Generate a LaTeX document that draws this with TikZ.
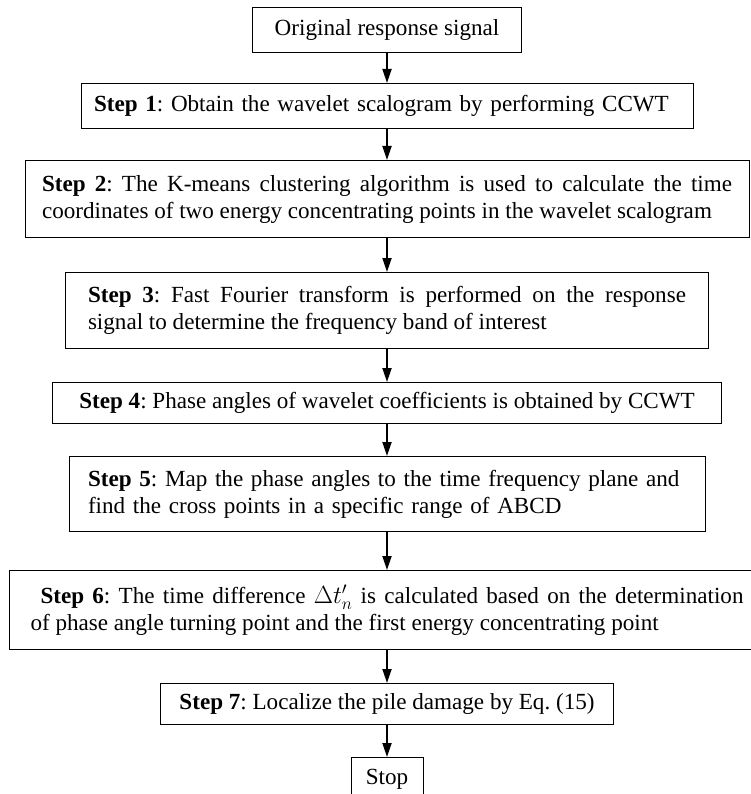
\documentclass[tikz,border=0pt]{standalone}
\usepackage{fontspec}
\setmainfont{Liberation Serif}
\usetikzlibrary{arrows.meta}
\begin{document}
\begin{tikzpicture}[x=1pt,y=1pt,
    box/.style={draw,line width=1pt,anchor=north,inner sep=0pt,
      font=\fontsize{23.1}{27}\selectfont\frenchspacing},
    flow/.style={-{Triangle[length=14pt,width=9pt]},line width=1.8pt}]
    \useasboundingbox (0,0) rectangle (750,-794);

    \node[box,minimum width=269pt,minimum height=45pt] (orig) at (387,-7)
      {Original response signal};
    \node[box,minimum width=612pt,minimum height=45pt,text width=586pt,align=left] (s1) at (387,-83)
      {\textbf{Step 1}: Obtain the wavelet scalogram by performing CCWT};
    \node[box,minimum width=724pt,minimum height=77pt,text width=690pt,align=justify] (s2) at (387,-160)
      {\textbf{Step 2}: The K-means clustering algorithm is used to calculate the time\linebreak
       coordinates of two energy concentrating points in the wavelet scalogram};
    \node[box,minimum width=643pt,minimum height=76pt,text width=598pt,align=justify] (s3) at (387,-272)
      {\textbf{Step 3}: Fast Fourier transform is performed on the response\linebreak
       signal to determine the frequency band of interest};
    \node[box,minimum width=669pt,minimum height=41pt] (s4) at (387,-382)
      {\textbf{Step 4}: Phase angles of wavelet coefficients is obtained by CCWT};
    \node[box,minimum width=636pt,minimum height=75pt,text width=598pt,align=left] (s5) at (387,-456)
      {\textbf{Step 5}: Map the phase angles to the time frequency plane and\\
       find the cross points in a specific range of ABCD};
    \node[box,minimum width=755pt,minimum height=79pt,text width=713pt,align=justify] (s6) at (387,-570)
      {\hspace*{10pt}\textbf{Step 6}: The time difference $\Delta t'_n$ is calculated based on the determination\linebreak
       of phase angle turning point and the first energy concentrating point};
    \node[box,minimum width=453pt,minimum height=41pt] (s7) at (387,-683)
      {\textbf{Step 7}: Localize the pile damage by Eq. (15)};
    \node[box,minimum width=72pt,minimum height=43pt] (stop) at (387,-757)
      {Stop};

    \foreach \a/\b in {orig/s1,s1/s2,s2/s3,s3/s4,s4/s5,s5/s6,s6/s7,s7/stop}
      \draw[flow] (\a) -- (\b);

\end{tikzpicture}
\end{document}
